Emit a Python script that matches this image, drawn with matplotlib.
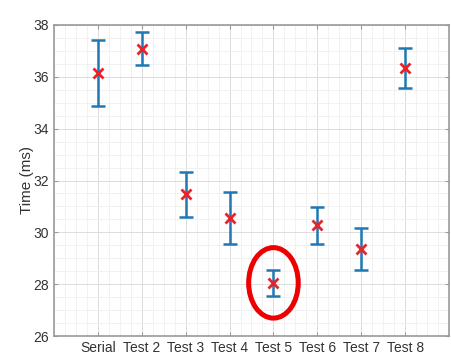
import matplotlib.pyplot as plt
from matplotlib.patches import Ellipse
from matplotlib.ticker import MultipleLocator

plt.rcParams['font.family'] = ['Liberation Sans', 'DejaVu Sans']

# data
labels = ['Serial', 'Test 2', 'Test 3', 'Test 4', 'Test 5', 'Test 6', 'Test 7', 'Test 8']
mean_ms = [36.15, 37.07, 31.48, 30.55, 28.05, 30.28, 29.37, 36.33]
upper_ms = [37.42, 37.72, 32.33, 31.55, 28.55, 30.97, 30.16, 37.10]
lower_ms = [34.87, 36.45, 30.60, 29.55, 27.56, 29.55, 28.55, 35.57]
highlight = 4  # Test 5

x = list(range(1, len(labels) + 1))
err_lo = [m - l for m, l in zip(mean_ms, lower_ms)]
err_hi = [u - m for m, u in zip(mean_ms, upper_ms)]

fig = plt.figure(figsize=(4.52, 3.61), dpi=100)
ax = fig.add_axes([54 / 452, 25 / 361, 395 / 452, 311 / 361])

ax.errorbar(x, mean_ms, yerr=[err_lo, err_hi], fmt='none', ecolor='#1f77b4',
            elinewidth=1.8, capsize=5, capthick=1.8, zorder=3)
ax.plot(x, mean_ms, 'x', color='#e8242a', markersize=7, markeredgewidth=2, zorder=4)

# red circle around the best result
ax.add_patch(Ellipse((x[highlight], mean_ms[highlight]), 1.13, 2.72, fill=False,
                     edgecolor='#ee0000', linewidth=3.6, zorder=5))

ax.set_xlim(0, 9)
ax.set_ylim(26, 38)
ax.set_xticks(x)
ax.set_xticklabels(labels)
ax.set_yticks(range(26, 39, 2))
ax.xaxis.set_minor_locator(MultipleLocator(0.25))
ax.yaxis.set_minor_locator(MultipleLocator(0.5))
ax.grid(which='major', color='#dcdcdc', linewidth=0.7)
ax.grid(which='minor', color='#efefef', linewidth=0.6)
ax.set_axisbelow(True)

for s in ax.spines.values():
    s.set_color('#9a9a9a')
    s.set_linewidth(1.2)
ax.tick_params(which='major', direction='in', length=3, top=True, right=True,
               colors='#9a9a9a', labelcolor='#333333', labelsize=10)
ax.tick_params(which='minor', length=0)
ax.set_ylabel('Time (ms)', fontsize=11, color='#333333')
ax.yaxis.set_label_coords(-20 / 395, 0.5)

fig.savefig('out.png', dpi=100)
